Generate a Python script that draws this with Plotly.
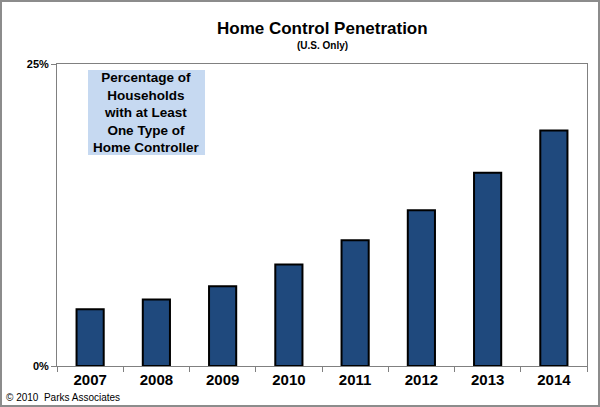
import plotly.graph_objects as go

years = ["2007", "2008", "2009", "2010", "2011", "2012", "2013", "2014"]
penetration = [4.7, 5.5, 6.6, 8.4, 10.4, 12.9, 16.0, 19.5]
y_ticks = [0, 25]
y_tick_labels = ["0%", "25%"]

W, H = 600, 407
L, R, T, B = 57, 13, 64, 41
pw, ph = W - L - R, H - T - B

def px_x(x):
    return (x - L) / pw

def px_y(y):
    return (H - B - y) / ph

FONT = "Arial, Liberation Sans, sans-serif"

fig = go.Figure(go.Bar(
    x=years, y=penetration,
    marker=dict(color="#1f497d", line=dict(color="#000000", width=2)),
    width=0.41,
))

fig.update_layout(
    width=W, height=H,
    margin=dict(l=L, r=R, t=T, b=B),
    paper_bgcolor="white", plot_bgcolor="white",
    showlegend=False,
    font=dict(family=FONT, color="black"),
    xaxis=dict(
        type="category", showgrid=False,
        showline=True, linecolor="#808080", linewidth=1, mirror=True,
        ticks="outside", tickson="boundaries", ticklen=5, tickcolor="#808080",
        tickfont=dict(family=FONT, size=15, color="black", weight="bold"),
    ),
    yaxis=dict(
        range=[0, 25], tickvals=y_ticks, ticktext=y_tick_labels,
        showgrid=False, zeroline=False,
        showline=True, linecolor="#808080", linewidth=1, mirror=True,
        ticks="outside", ticklen=5, tickcolor="#808080",
        tickfont=dict(family=FONT, size=11, color="black", weight="bold"),
    ),
    shapes=[
        dict(type="rect", xref="paper", yref="paper",
             x0=px_x(1), x1=px_x(599), y0=px_y(1), y1=px_y(406),
             line=dict(color="#8c8c8c", width=2), fillcolor="rgba(0,0,0,0)", layer="above"),
        dict(type="rect", xref="paper", yref="paper",
             x0=px_x(88), x1=px_x(205), y0=px_y(70), y1=px_y(155),
             line=dict(width=0), fillcolor="#c6d9f1", layer="below"),
    ],
    annotations=[
        dict(text="<b>Home Control Penetration</b>", xref="paper", yref="paper",
             x=px_x(322), y=px_y(28), showarrow=False, xanchor="center", yanchor="middle",
             font=dict(family=FONT, size=17, color="black")),
        dict(text="<b>(U.S. Only)</b>", xref="paper", yref="paper",
             x=px_x(322), y=px_y(45), showarrow=False, xanchor="center", yanchor="middle",
             font=dict(family=FONT, size=10, color="black")),
        dict(text="<b>Percentage of<br>Households<br>with at Least<br>One Type of<br>Home Controller</b>",
             xref="paper", yref="paper",
             x=px_x(146.5), y=px_y(112.5), showarrow=False, xanchor="center", yanchor="middle",
             align="center",
             font=dict(family=FONT, size=13.5, color="black")),
        dict(text="© 2010  Parks Associates", xref="paper", yref="paper",
             x=px_x(4), y=px_y(397), showarrow=False, xanchor="left", yanchor="middle",
             font=dict(family=FONT, size=10, color="black")),
    ],
)

fig.write_html("out.html")
